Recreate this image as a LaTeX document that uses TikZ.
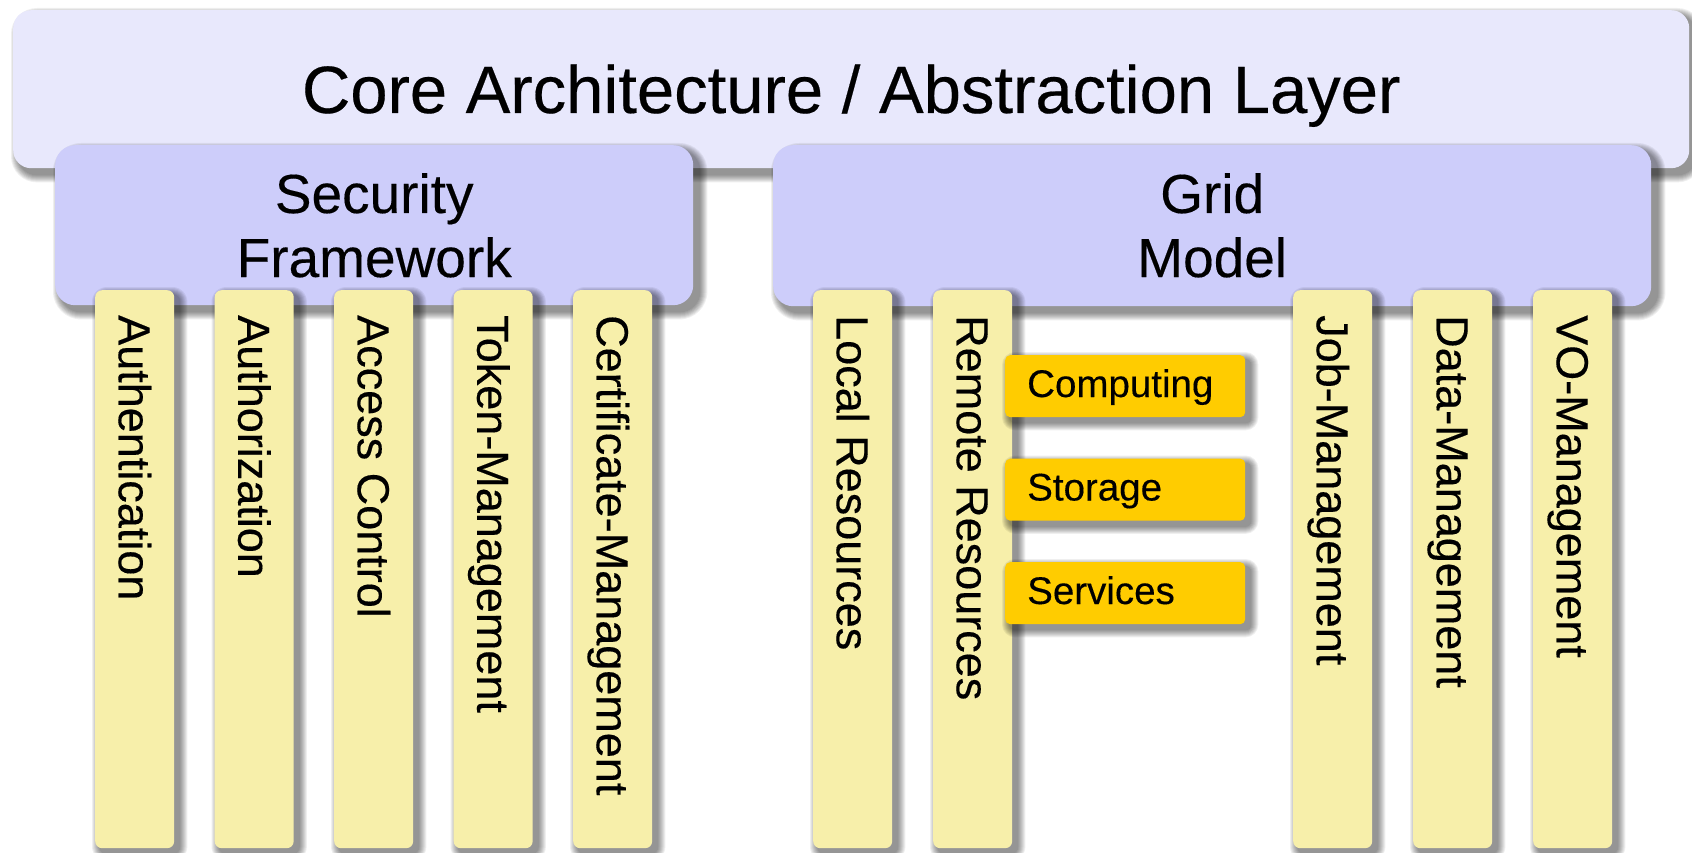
\documentclass[tikz,border=0pt]{standalone}
\usepackage{fontspec}
\setmainfont{Liberation Sans}[FakeBold=0.3]
\usetikzlibrary{calc}

\definecolor{corefill}{RGB}{232,232,252}
\definecolor{groupfill}{RGB}{205,205,250}
\definecolor{colfill}{RGB}{247,239,170}
\definecolor{tagfill}{RGB}{255,204,0}

\tikzset{
  layerbox/.style={fill=corefill, rounded corners=18pt, inner sep=0pt, anchor=north west},
  groupbox/.style={fill=groupfill, rounded corners=20pt, inner sep=0pt, anchor=north west},
  colbox/.style={fill=colfill, rounded corners=7pt, inner sep=0pt, anchor=north west,
                 minimum width=79pt, minimum height=558pt},
  tagbox/.style={fill=tagfill, rounded corners=5pt, inner sep=0pt, anchor=north west,
                 minimum width=240pt, minimum height=62pt},
  titletext/.style={font=\fontsize{67pt}{80pt}\selectfont, anchor=base, inner sep=0pt},
  grouptext/.style={font=\fontsize{55pt}{64pt}\selectfont, anchor=base, inner sep=0pt},
  coltext/.style={font=\fontsize{45pt}{54pt}\selectfont, rotate=-90, anchor=base west, inner sep=0pt},
  tagtext/.style={font=\fontsize{38.5pt}{46pt}\selectfont, anchor=base west, inner sep=0pt},
}

% soft shadow below and to the right of a named node:
% #1 node, #2 corner radius, #3 offset
\newcommand\castshadow[3]{%
  \foreach \g in {1,...,8}{%
    \pgfmathsetmacro\rr{#2+\g}%
    \pgfmathsetmacro\ax{#3-\g}%
    \pgfmathsetmacro\ay{\g-#3}%
    \pgfmathsetmacro\bx{#3+\g}%
    \pgfmathsetmacro\by{-#3-\g}%
    \fill[black, opacity=0.062, rounded corners=\rr pt]
      ([xshift=\ax pt, yshift=\ay pt]#1.north west) rectangle
      ([xshift=\bx pt, yshift=\by pt]#1.south east);
  }%
}

\begin{document}
\begin{tikzpicture}[x=1pt, y=-1pt]
  \useasboundingbox (0,0) rectangle (1692,853);
  \fill[white] (0,0) rectangle (1692,853);

  % core layer
  \node[layerbox, minimum width=1676pt, minimum height=158pt, fill=none] (core) at (13,10) {};
  \castshadow{core}{18}{6}
  \node[layerbox, minimum width=1676pt, minimum height=158pt] (core) at (13,10) {};
  \node[titletext] (coretitle) at ($(core.north)+(0,103)$) {Core Architecture / Abstraction Layer};

  % the two frameworks
  \node[groupbox, minimum width=638pt, minimum height=160pt, fill=none] (sec) at (55,145) {};
  \castshadow{sec}{20}{6}
  \node[groupbox, minimum width=638pt, minimum height=160pt] (sec) at (55,145) {};
  \node[grouptext] (secA) at ($(sec.north)+(0,68)$) {Security};
  \node[grouptext] (secB) at ($(sec.north)+(0,132)$) {Framework};

  \node[groupbox, minimum width=878pt, minimum height=161pt, fill=none] (grid) at (773,145) {};
  \castshadow{grid}{20}{6}
  \node[groupbox, minimum width=878pt, minimum height=161pt] (grid) at (773,145) {};
  \node[grouptext] (gridA) at ($(grid.north)+(0,68)$) {Grid};
  \node[grouptext] (gridB) at ($(grid.north)+(0,132)$) {Model};

  % pillars
  \foreach \nm/\xl/\txt in {
      authn/95/Authentication,
      authz/214.5/Authorization,
      acc/334/Access Control,
      tok/453.5/Token-Management,
      cert/573/Certificate-Management,
      loc/813/Local Resources,
      rem/933/Remote Resources,
      job/1293/Job-Management,
      dat/1413/Data-Management,
      vo/1533/VO-Management}{
    \node[colbox, fill=none] (\nm) at (\xl,290) {};
    \castshadow{\nm}{7}{5}
    \node[colbox] (\nm) at (\xl,290) {};
    \node[coltext] (\nm-label) at ($(\nm.north)+(-16,25)$) {\txt};
  }

  % remote resource kinds
  \foreach \nm/\yt/\txt in {comp/355/Computing, stor/458.5/Storage, serv/562/Services}{
    \node[tagbox, fill=none] (\nm) at (1005,\yt) {};
    \castshadow{\nm}{5}{5}
    \node[tagbox] (\nm) at (1005,\yt) {};
    \node[tagtext] (\nm-label) at ($(\nm.north west)+(22,42)$) {\txt};
  }
\end{tikzpicture}
\end{document}
